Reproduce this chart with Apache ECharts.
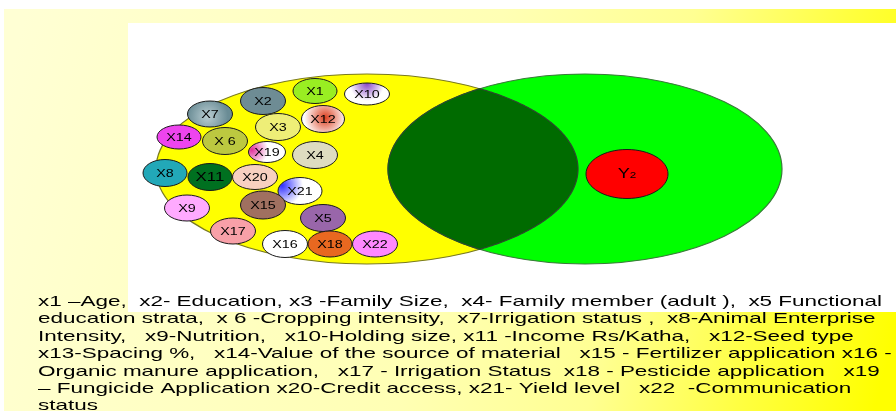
<!DOCTYPE html>
<html><head><meta charset="utf-8">
<script src="https://cdn.jsdelivr.net/npm/echarts@6/dist/echarts.min.js"></script>
<style>html,body{margin:0;padding:0;background:#fff}#c{width:896px;height:411px}</style>
</head><body><div id="c"></div>
<script>
// ---- data (diagram units) ----
const setNames = ['X', 'Y'];
const setCx = [367, 585];
const setCy = [169, 169];
const setRx = [211, 197];
const setRy = [95, 95];

const nodeNames = ['X1','X10','X2','X7','X12','X3','X14','X 6','X19','X4','X8','X11','X20','X21','X15','X9','X5','X17','X16','X18','X22','Y2'];
const nodeX = [315, 367, 263, 210, 323, 278, 179, 225, 267, 315, 165, 210, 255, 300, 263, 187, 323, 233, 285, 330, 375, 627];
const nodeY = [ 91,  94, 101, 114, 119, 127, 137, 141, 152, 155, 173, 177, 177, 191, 205, 208, 218, 231, 244, 244, 244, 174];
const nodeW = [ 44,  45,  45,  45,  43,  45,  44,  45,  37,  45,  44,  44,  45,  44,  45,  45,  45,  45,  45,  44,  45,  82];
const nodeH = [ 25,  22,  27,  26,  27,  27,  24,  27,  21,  27,  27,  27,  25,  27,  28,  26,  27,  26,  27,  26,  26,  49];

const legendLines = [
  'x1 \u2013Age,  x2- Education, x3 -Family Size,  x4- Family member (adult ),  x5 Functional',
  'education strata,  x 6 -Cropping intensity,  x7-Irrigation status ,  x8-Animal Enterprise',
  'Intensity,   x9-Nutrition,   x10-Holding size, x11 -Income Rs/Katha,   x12-Seed type',
  'x13-Spacing %,   x14-Value of the source of material   x15 - Fertilizer application x16 -',
  'Organic manure application,   x17 - Irrigation Status  x18 - Pesticide application   x19',
  '\u2013 Fungicide Application x20-Credit access, x21- Yield level   x22  -Communication',
  'status'
];

// ---- styles ----
function rad(c1, c2, x, y) { return {type:'radial', x:x, y:y, r:0.75, colorStops:[{offset:0,color:c1},{offset:1,color:c2}]}; }
const nodeFill = {
  'X1':'#99ee22', 'X10':rad('#8a48c8','#ffffff',0.5,0.05), 'X2':'#6e8c94',
  'X7':rad('#b9cdd2','#6a8c95',0.45,0.6), 'X12':rad('#dc4020','#ffffff',0.55,0.45), 'X3':'#eeee77',
  'X14':'#ee44ee', 'X 6':'#bcc840', 'X19':rad('#e0309a','#ffffff',0.1,0.4), 'X4':'#dedcc0',
  'X8':'#22a8b8', 'X11':'#007020', 'X20':'#f8d0c0', 'X21':rad('#3030ff','#ffffff',0.1,0.3),
  'X15':'#a07060', 'X9':'#ffaaff', 'X5':'#9966aa', 'X17':'#f8a0a8', 'X16':'#ffffff',
  'X18':'#e86820', 'X22':'#ff88ff', 'Y2':'#ff0000'
};
const setFill = ['#ffff00', '#00ff00'];
const setStroke = ['#7a7a20', '#3a7a3a'];
const FONT = '"Liberation Sans", Arial, sans-serif';

// measure legend width to match reference span
const cv = document.createElement('canvas').getContext('2d');
cv.font = '15px ' + FONT;
const legendScale = 844 / cv.measureText(legendLines[0]).width;

const chart = echarts.init(document.getElementById('c'), null, {renderer:'canvas'});

function inside(i, x, y) {
  const dx = (x - setCx[i]) / setRx[i], dy = (y - setCy[i]) / setRy[i];
  return dx*dx + dy*dy <= 1.0000001;
}

const graphicEls = [
  {type:'rect', z:-20, shape:{x:4, y:9, width:892, height:402}, style:{fill:{type:'linear', x:0, y:0.2, x2:1, y2:0.8, colorStops:[{offset:0,color:'#ffffd4'},{offset:0.5,color:'#ffffb4'},{offset:0.7,color:'#ffff92'},{offset:0.86,color:'#ffff40'},{offset:1,color:'#ffff00'}]}}, silent:true},
  {type:'rect', z:-19, shape:{x:128, y:23, width:768, height:289}, style:{fill:'#ffffff'}, silent:true}
];
legendLines.forEach(function (t, i) {
  graphicEls.push({type:'text', z:50, x:38, y:302 + i*17.35, scaleX:legendScale, scaleY:1,
    style:{text:t, font:'15px ' + FONT, fill:'#000', verticalAlign:'middle', align:'left'}, silent:true});
});

chart.setOption({
  animation:false,
  grid:{left:0, top:0, right:0, bottom:0},
  xAxis:{type:'value', min:0, max:896, show:false},
  yAxis:{type:'value', min:0, max:411, inverse:true, show:false},
  graphic:{elements:graphicEls},
  series:[
    {
      type:'custom', z:2, silent:true,
      data: setNames.map(function (n, i) { return [setCx[i], setCy[i], setRx[i], setRy[i], i]; }),
      renderItem:function (params, api) {
        const c = api.coord([api.value(0), api.value(1)]);
        const s = api.size([api.value(2), api.value(3)]);
        const i = api.value(4);
        return {type:'ellipse', shape:{cx:c[0], cy:c[1], rx:s[0], ry:s[1]},
          style:{fill:setFill[i], stroke:setStroke[i], lineWidth:1.2}};
      }
    },
    {
      type:'custom', z:3, silent:true,
      data:[[0]],
      renderItem:function (params, api) {
        const pts = [];
        const N = 400;
        for (let k = 0; k <= N; k++) {
          const t = -Math.PI/2 + Math.PI * k / N;
          const x = setCx[0] + setRx[0]*Math.cos(t), y = setCy[0] + setRy[0]*Math.sin(t);
          if (inside(1, x, y)) pts.push(api.coord([x, y]));
        }
        for (let k = 0; k <= N; k++) {
          const t = Math.PI/2 + Math.PI * k / N;
          const x = setCx[1] + setRx[1]*Math.cos(t), y = setCy[1] + setRy[1]*Math.sin(t);
          if (inside(0, x, y)) pts.push(api.coord([x, y]));
        }
        return {type:'polygon', shape:{points:pts}, style:{fill:'#006b00', stroke:'#2c4a2c', lineWidth:1.2}};
      }
    },
    {
      type:'custom', z:5, silent:true,
      data: nodeNames.map(function (n, i) { return [nodeX[i], nodeY[i], nodeW[i], nodeH[i], i]; }),
      renderItem:function (params, api) {
        const c = api.coord([api.value(0), api.value(1)]);
        const s = api.size([api.value(2), api.value(3)]);
        const i = api.value(4);
        const name = nodeNames[i];
        const isY = name === 'Y2';
        const big = name === 'X11';
        const txt = isY ? {type:'text', x:c[0], y:c[1], scaleX:1.3,
            style:{text:'{a|Y}{b|2}', rich:{a:{font:'14px ' + FONT, fill:'#000', verticalAlign:'bottom'}, b:{font:'9px ' + FONT, fill:'#000', verticalAlign:'bottom', padding:[0,0,1,0]}}, align:'center', verticalAlign:'middle'}}
          : {type:'text', x:c[0], y:c[1] + 0.5, scaleX:1.3,
            style:{text:name, font:(big ? '13px ' : '11px ') + FONT, fill:'#000', align:'center', verticalAlign:'middle'}};
        return {type:'group', children:[
          {type:'ellipse', shape:{cx:c[0], cy:c[1], rx:s[0]/2, ry:s[1]/2},
            style:{fill:nodeFill[name], stroke:'#1a1a1a', lineWidth:1}},
          txt
        ]};
      }
    }
  ]
});
</script></body></html>
